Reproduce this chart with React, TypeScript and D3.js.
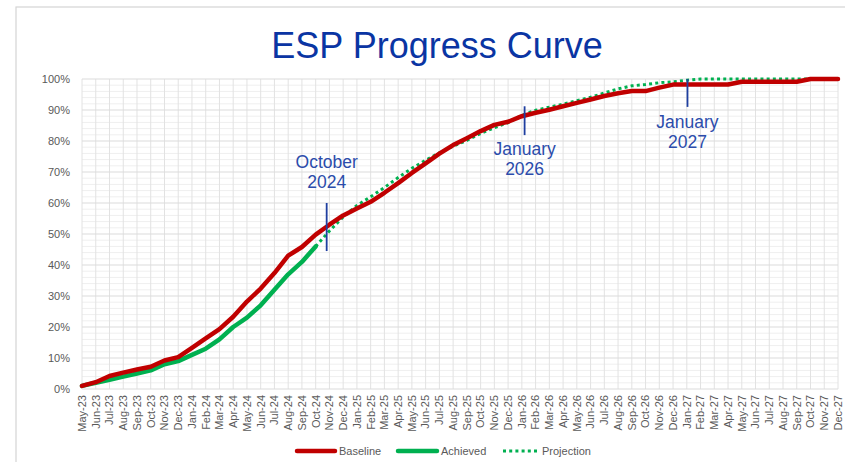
import React from "react";
import * as d3 from "d3";

const months = [
  "May-23","Jun-23","Jul-23","Aug-23","Sep-23","Oct-23","Nov-23","Dec-23",
  "Jan-24","Feb-24","Mar-24","Apr-24","May-24","Jun-24","Jul-24","Aug-24","Sep-24","Oct-24","Nov-24","Dec-24",
  "Jan-25","Feb-25","Mar-25","Apr-25","May-25","Jun-25","Jul-25","Aug-25","Sep-25","Oct-25","Nov-25","Dec-25",
  "Jan-26","Feb-26","Mar-26","Apr-26","May-26","Jun-26","Jul-26","Aug-26","Sep-26","Oct-26","Nov-26","Dec-26",
  "Jan-27","Feb-27","Mar-27","Apr-27","May-27","Jun-27","Jul-27","Aug-27","Sep-27","Oct-27","Nov-27","Dec-27",
];

const baseline = [
  1, 2.2, 4.2, 5.3, 6.3, 7.2, 9.2, 10.3,
  13.3, 16.3, 19.3, 23.3, 28.2, 32.4, 37.4, 43, 45.8, 49.8, 53, 56,
  58.2, 60.4, 63.3, 66.4, 69.7, 72.8, 75.9, 78.7, 80.9, 83.2, 85.2, 86.2,
  88, 89.1, 90.1, 91.2, 92.3, 93.4, 94.5, 95.4, 96.1, 96.1, 97.2, 98.2,
  98.2, 98.2, 98.2, 98.2, 99.1, 99.1, 99.1, 99.1, 99.1, 100, 100, 100,
];

const achieved = [1, 2, 3, 4, 5, 6, 8, 9, 11, 13, 16, 20, 23, 27, 32, 37, 41, 46];

const projectionStart = "Oct-24";
const projection = [
  46, 51, 55.5,
  59.2, 62, 65, 68.2, 71.2, 73.8, 76.2, 78.3, 80.2, 82.4, 84.3, 85.9,
  88.3, 89.9, 90.9, 91.9, 93, 94.1, 95.5, 96.8, 97.8, 98.2, 98.8, 99.1,
  99.6, 100, 100, 100, 100, 100, 100, 100, 100, 100, 100, 100,
];

const yTicks = [0, 10, 20, 30, 40, 50, 60, 70, 80, 90, 100];

const annotations = [
  { lines: ["October", "2024"], after: "Oct-24", frac: 0.8, lineTop: 60, lineBottom: 44.5, textY: 71.3 },
  { lines: ["January", "2026"], after: "Jan-26", frac: 0.2, lineTop: 91.2, lineBottom: 81.9, textY: 75.5 },
  { lines: ["January", "2027"], after: "Jan-27", frac: 0.05, lineTop: 100, lineBottom: 91, textY: 84.3 },
];

const legendItems = [
  { name: "Baseline", kind: "baseline" },
  { name: "Achieved", kind: "achieved" },
  { name: "Projection", kind: "projection" },
];

const W = 845, H = 462;
const RED = "#C00000";
const GREEN = "#00B050";
const ANN = "#2B4CAB";
const FONT = "'Liberation Sans', Arial, sans-serif";

export default function App() {
  const x = d3.scalePoint<string>().domain(months).range([82, 838]);
  const y = d3.scaleLinear().domain([0, 100]).range([389, 79]);
  const step = x.step();

  const line = d3.line<[string, number]>()
    .x((d) => x(d[0]) as number)
    .y((d) => y(d[1]))
    .curve(d3.curveLinear);

  const basePts = baseline.map((v, i) => [months[i], v] as [string, number]);
  const achPts = achieved.map((v, i) => [months[i], v] as [string, number]);
  const pStart = months.indexOf(projectionStart);
  const projPts = projection.map((v, i) => [months[pStart + i], v] as [string, number]);

  const minorTicks = d3.range(0, 101, 2).filter((v) => v % 10 !== 0);

  return (
    <svg width={W} height={H} style={{ position: "absolute", left: 0, top: 0, display: "block", background: "#fff" }} fontFamily={FONT}>
      <rect x={16} y={7} width={W} height={H} fill="#fff" stroke="#d4d4d4" strokeWidth={1.2} />
      <text x={437} y={58} textAnchor="middle" fontSize={36} fill="#0A35A3">ESP Progress Curve</text>

      {/* grid */}
      <g>
        {minorTicks.map((v) => (
          <line key={"m" + v} x1={82} x2={838} y1={y(v)} y2={y(v)} stroke="#efefef" strokeWidth={1} />
        ))}
        {months.map((m) => (
          <line key={"v" + m} x1={x(m)} x2={x(m)} y1={y(0)} y2={y(100)} stroke="#e2e2e2" strokeWidth={1} />
        ))}
        {yTicks.map((v) => (
          <line key={"h" + v} x1={82} x2={838} y1={y(v)} y2={y(v)} stroke="#dcdcdc" strokeWidth={1.2} />
        ))}
      </g>

      {/* y labels */}
      {yTicks.map((v) => (
        <text key={"yl" + v} x={70} y={y(v)} dy="0.35em" textAnchor="end" fontSize={11} fill="#595959">{v + "%"}</text>
      ))}

      {/* x labels */}
      {months.map((m) => (
        <text key={"xl" + m} transform={`translate(${(x(m) as number)},${395}) rotate(-90)`} dy="0.35em" textAnchor="end" fontSize={11} fill="#595959">{m}</text>
      ))}

      {/* lines */}
      <path d={line(projPts) || ""} fill="none" stroke={GREEN} strokeWidth={3} strokeDasharray="3 3.2" />
      <path d={line(achPts) || ""} fill="none" stroke={GREEN} strokeWidth={4.5} strokeLinejoin="round" strokeLinecap="round" />
      <path d={line(basePts) || ""} fill="none" stroke={RED} strokeWidth={4.5} strokeLinejoin="round" strokeLinecap="round" />

      {/* annotations */}
      {annotations.map((a, i) => {
        const ax = (x(a.after) as number) + a.frac * step;
        return (
          <g key={"a" + i}>
            <line x1={ax} x2={ax} y1={y(a.lineTop)} y2={y(a.lineBottom)} stroke="#1F3FA0" strokeWidth={1.8} />
            {a.lines.map((t, j) => (
              <text key={j} x={ax} y={y(a.textY) + j * 20} textAnchor="middle" fontSize={17.5} fill={ANN}>{t}</text>
            ))}
          </g>
        );
      })}

      {/* legend */}
      {legendItems.map((it, i) => {
        const lx = [297, 398, 503][i];
        const len = [38, 39, 35][i];
        return (
          <g key={"lg" + i}>
            {it.kind === "projection" ? (
              <line x1={lx} x2={lx + len} y1={451} y2={451} stroke={GREEN} strokeWidth={3} strokeDasharray="3 3.2" />
            ) : (
              <line x1={lx} x2={lx + len} y1={451} y2={451} stroke={it.kind === "baseline" ? RED : GREEN} strokeWidth={4.5} strokeLinecap="round" />
            )}
            <text x={lx + len + 4} y={451} dy="0.35em" fontSize={11} fill="#595959">{it.name}</text>
          </g>
        );
      })}
    </svg>
  );
}
